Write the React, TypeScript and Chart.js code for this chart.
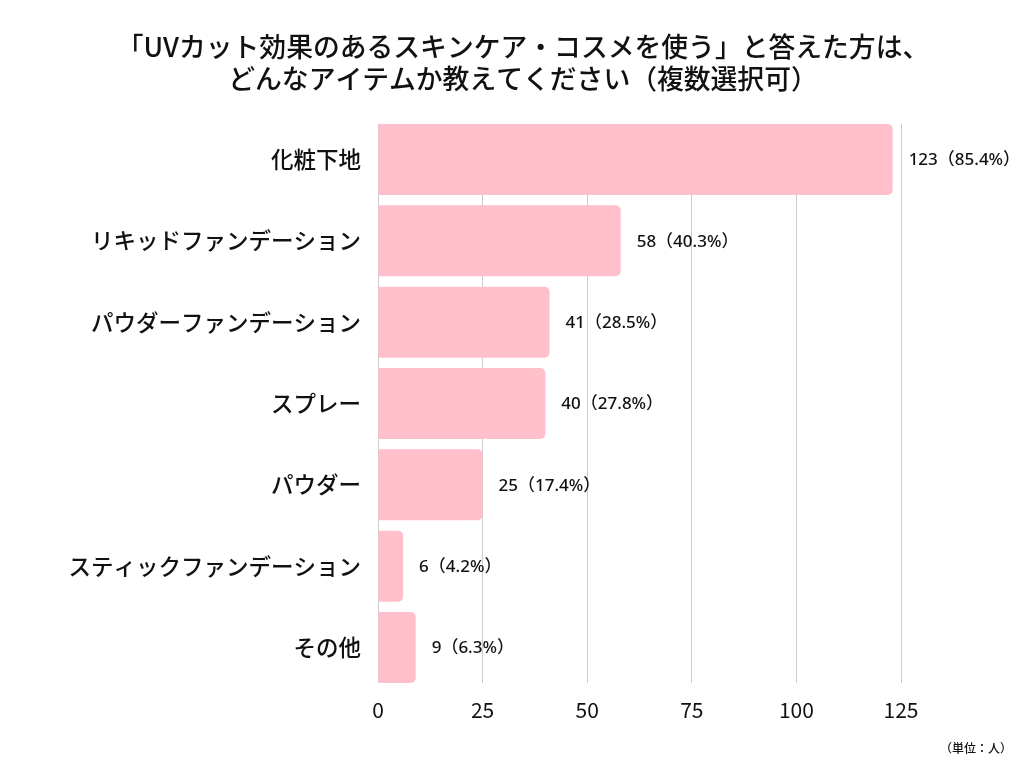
import React, { useEffect, useRef } from "react";
import { Chart, registerables } from "chart.js";

Chart.register(...registerables);

const titleLines = [
  "「UVカット効果のあるスキンケア・コスメを使う」と答えた方は、",
  "どんなアイテムか教えてください（複数選択可）",
];
const categories = [
  "化粧下地",
  "リキッドファンデーション",
  "パウダーファンデーション",
  "スプレー",
  "パウダー",
  "スティックファンデーション",
  "その他",
];
const values = [123, 58, 41, 40, 25, 6, 9];
const percents = ["85.4%", "40.3%", "28.5%", "27.8%", "17.4%", "4.2%", "6.3%"];
const unitNote = "（単位：人）";
const xMax = 125;
const xStep = 25;

const JP = '"Noto Sans CJK JP", "Noto Sans", sans-serif';

export default function App() {
  const ref = useRef<HTMLCanvasElement | null>(null);

  useEffect(() => {
    if (!ref.current) return;
    const textPlugin = {
      id: "texts",
      afterDatasetsDraw(chart: any) {
        const ctx = chart.ctx;
        const meta = chart.getDatasetMeta(0);
        ctx.save();
        ctx.fillStyle = "#111";
        ctx.font = '500 17px "Noto Sans", "Noto Sans CJK JP", sans-serif';
        ctx.textAlign = "left";
        ctx.textBaseline = "middle";
        meta.data.forEach((el: any, i: number) => {
          ctx.fillText(`${values[i]}（${percents[i]}）`, el.x + 16, el.y + 1);
        });
        ctx.restore();
      },
      afterDraw(chart: any) {
        const ctx = chart.ctx;
        ctx.save();
        ctx.fillStyle = "#111";
        ctx.textAlign = "center";
        ctx.textBaseline = "middle";
        ctx.font = `500 26.8px ${JP}`;
        titleLines.forEach((t, i) => ctx.fillText(t, 523, 47 + i * 32));
        ctx.font = `500 12px ${JP}`;
        ctx.textAlign = "right";
        ctx.fillText(unitNote, 1012, 748);
        ctx.restore();
      },
    };

    const chart = new Chart(ref.current, {
      type: "bar",
      data: {
        datasets: [
          {
            data: values.map((v, i) => ({ x: v, y: i })),
            backgroundColor: "#FFBFCB",
            borderRadius: 5,
            borderSkipped: "start",
            categoryPercentage: 1,
            barPercentage: 0.873,
          },
        ],
      },
      options: {
        indexAxis: "y",
        responsive: false,
        animation: false,
        devicePixelRatio: 1,
        layout: { padding: { top: 124, right: 123, left: 0, bottom: 25 } },
        plugins: {
          legend: { display: false },
          tooltip: { enabled: false },
          title: { display: false },
        },
        scales: {
          x: {
            type: "linear",
            min: 0,
            max: xMax,
            ticks: {
              stepSize: xStep,
              color: "#111",
              font: { family: JP, size: 21 },
              padding: 14,
            },
            grid: { color: "#cccccc", drawTicks: false, lineWidth: 1 },
            border: { display: false },
            afterFit(scale: any) {
              scale.height = 60;
            },
          },
          y: {
            type: "linear",
            reverse: true,
            offset: false,
            min: -0.4365,
            max: categories.length - 1 + 0.4365,
            grid: { display: false, drawTicks: false, offset: false },
            border: { display: false },
            ticks: {
              stepSize: 1,
              includeBounds: false,
              autoSkip: false,
              color: "#111",
              padding: 17,
              font: { family: JP, size: 22.5, weight: 500 },
              callback: (v: any) =>
                Number.isInteger(v) ? categories[v as number] : "",
            },
            afterFit(scale: any) {
              scale.width = 378;
            },
          },
        },
      },
      plugins: [textPlugin],
    } as any);
    return () => chart.destroy();
  }, []);

  return (
    <div style={{ position: "absolute", left: 0, top: 0, width: 1024, height: 768, background: "#fff" }}>
      <canvas ref={ref} width={1024} height={768} />
    </div>
  );
}
